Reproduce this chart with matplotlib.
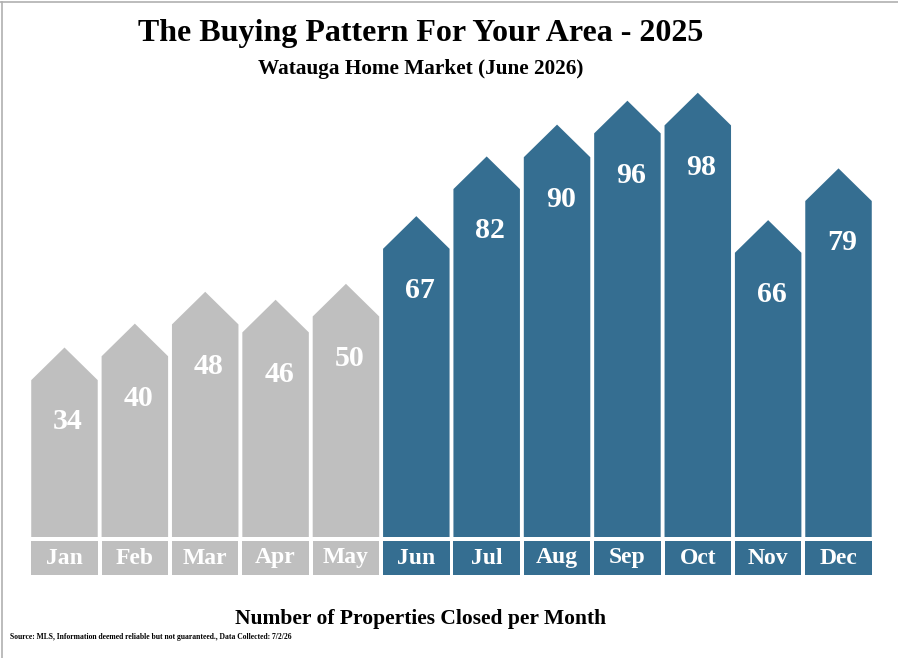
import matplotlib
matplotlib.use('Agg')
import matplotlib.pyplot as plt
from matplotlib.patches import Polygon, Rectangle
from matplotlib.lines import Line2D

# Chart data
months = ['Jan', 'Feb', 'Mar', 'Apr', 'May', 'Jun',
          'Jul', 'Aug', 'Sep', 'Oct', 'Nov', 'Dec']
closed = [34, 40, 48, 46, 50, 67, 82, 90, 96, 98, 66, 79]
highlight_from = 5  # Jun onwards in blue

title = 'The Buying Pattern For Your Area - 2025'
subtitle = 'Watauga Home Market (June 2026)'
xlabel = 'Number of Properties Closed per Month'
source = 'Source: MLS, Information deemed reliable but not guaranteed., Data Collected: 7/2/26'

# Styles
GRAY = '#bfbfbf'
BLUE = '#356e91'
FONT = 'Liberation Serif'
BAR_W = 0.945
ROOF = 8.2      # roof height in data units
FLOOR = -5.4    # bars start a little below zero
YTOP = 109.4

W, H = 898, 658
fig = plt.figure(figsize=(W / 100, H / 100), dpi=100)
fig.patch.set_facecolor('white')

# Main bar axes
ax = fig.add_axes([29.3 / W, (H - 537) / H, 844.4 / W, 457 / H])
ax.set_xlim(-0.5, len(months) - 0.5)
ax.set_ylim(FLOOR, YTOP)
ax.axis('off')

colors = [GRAY if i < highlight_from else BLUE for i in range(len(months))]

for i, (v, c) in enumerate(zip(closed, colors)):
    l, r = i - BAR_W / 2, i + BAR_W / 2
    house = [(l, FLOOR), (r, FLOOR), (r, v), (i, v + ROOF), (l, v)]
    ax.add_patch(Polygon(house, closed=True, facecolor=c, edgecolor='none'))
    ax.text(i + 0.05, v - 10.5, str(v), ha='center', va='center', color='white',
            fontsize=21.5, fontweight='bold', family=FONT)

# Month label boxes
lab = fig.add_axes([29.3 / W, (H - 575) / H, 844.4 / W, 34 / H])
lab.set_xlim(-0.5, len(months) - 0.5)
lab.set_ylim(0, 1)
lab.axis('off')
for i, (m, c) in enumerate(zip(months, colors)):
    lab.add_patch(Rectangle((i - BAR_W / 2, 0), BAR_W, 1, facecolor=c, edgecolor='none'))
    lab.text(i, 0.5, m, ha='center', va='center', color='white',
             fontsize=17, fontweight='bold', family=FONT)

# Titles and notes
fig.text(421 / W, 1 - 33 / H, title, ha='center', va='center',
         fontsize=23, fontweight='bold', family=FONT)
fig.text(421 / W, 1 - 69 / H, subtitle, ha='center', va='center',
         fontsize=15.3, fontweight='bold', family=FONT)
fig.text(421 / W, 1 - 619 / H, xlabel, ha='center', va='center',
         fontsize=15.5, fontweight='bold', family=FONT)
fig.text(10 / W, 1 - 637 / H, source, ha='left', va='center',
         fontsize=5.5, fontweight='bold', family=FONT)

# Thin frame on top and left
fig.add_artist(Line2D([1.5 / W, 1.5 / W], [0, 1 - 1.5 / H], color='#b0b0b0', lw=1.2))
fig.add_artist(Line2D([0, 1], [1 - 1.5 / H, 1 - 1.5 / H], color='#b0b0b0', lw=1.2))

fig.savefig('out.png', dpi=100, facecolor='white')
